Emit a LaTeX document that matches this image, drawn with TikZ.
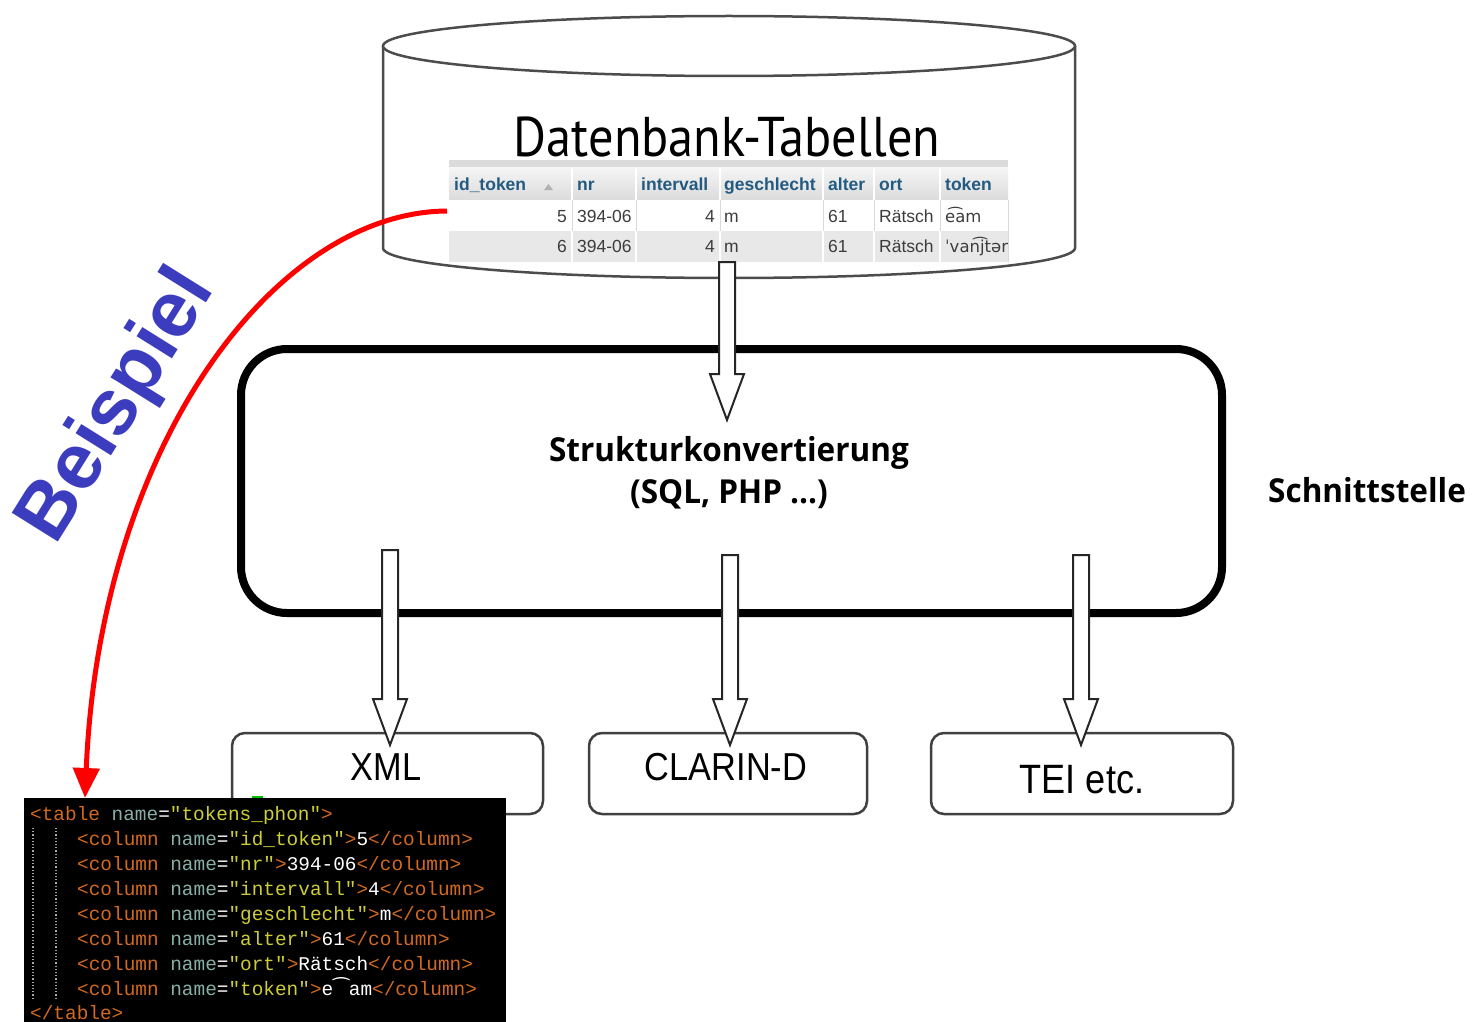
\documentclass[tikz,border=0pt]{standalone}
\usepackage{fontspec}
\setmainfont{Liberation Sans}
\setmonofont{Liberation Mono}
\newfontfamily\ptsans{PT Sans}
\newfontfamily\hbold{Open Sans}
\newfontfamily\djv{DejaVu Sans}
\usetikzlibrary{arrows.meta,calc}
\definecolor{hdr}{RGB}{35,90,129}
\definecolor{celltxt}{RGB}{60,60,60}
\definecolor{xtagc}{RGB}{210,105,30}
\definecolor{xattc}{RGB}{135,175,165}
\definecolor{xvalc}{RGB}{205,205,55}
\definecolor{bsp}{RGB}{60,60,190}
\newcommand\xt[1]{\textcolor{xtagc}{#1}}
\newcommand\xa[1]{\textcolor{xattc}{#1}}
\newcommand\xv[1]{\textcolor{xvalc}{#1}}
\newcommand\xw[1]{\textcolor{white}{#1}}
\newcommand\colline[2]{\xt{<column} \xa{name}\xw{=}\xv{"#1"}\xt{>}\xw{#2}\xt{</column>}}
\newcommand\hollowarrow[2]{%
  \draw[harrow] ($(#1)+(-8,0)$) -- ($(#2)+(-8,-46)$) -- ($(#2)+(-17,-46)$) -- (#2)
    -- ($(#2)+(17,-46)$) -- ($(#2)+(8,-46)$) -- ($(#1)+(8,0)$) -- cycle;}
\begin{document}
\begin{tikzpicture}[x=1pt,y=-1pt,
  harrow/.style={draw=black!85,line width=2pt,fill=white,line join=miter},
  outbox/.style={draw=black!75,line width=2.5pt,rounded corners=13pt,fill=white,minimum height=81pt},
  outtxt/.style={font=\fontsize{39}{44}\selectfont,xscale=0.88},
  cell/.style={font=\fontsize{17.5}{20}\selectfont,text=celltxt,anchor=base west,inner sep=0pt},
  hcell/.style={font=\bfseries\fontsize{17.5}{20}\selectfont,text=hdr,anchor=base west,inner sep=0pt},
  rcell/.style={cell,anchor=base east},
  codeline/.style={font=\ttfamily\fontsize{19.4}{24}\selectfont,anchor=base west,inner sep=0pt},
  bigtxt/.style={font=\hbold\bfseries\fontsize{33}{42}\selectfont,xscale=0.955}
]
\useasboundingbox (0,0) rectangle (1478,1022);

% ---------- database cylinder ----------
\draw[black!70,line width=2.5pt,fill=white]
  (383,46) -- (383,248) arc[start angle=180,end angle=0,x radius=346,y radius=30]
  -- (1075,46);
\draw[black!70,line width=2.5pt,fill=white] (729,46) ellipse [x radius=346,y radius=30];
\node[font=\ptsans\fontsize{56}{60}\selectfont,inner sep=0pt,xscale=0.9] (db) at (727,137) {Datenbank-Tabellen};

% ---------- table ----------
\fill[gray!28] (449,160) rectangle (1008,168);
\shade[top color=gray!8,bottom color=gray!28] (449,168) rectangle (1008,200);
\fill[white] (449,200) rectangle (1008,231);
\fill[gray!18] (449,231) rectangle (1008,262);
\foreach \cx in {572,636,720,823,874,940}{
  \draw[white,line width=1.2pt] (\cx,168) -- (\cx,200);
  \draw[gray!30,line width=1pt] (\cx,200) -- (\cx,231);
  \draw[white,line width=1.2pt] (\cx,231) -- (\cx,262);
}
\draw[gray!30,line width=1pt] (1008,200) -- (1008,262);
\node[hcell] (h1) at (454,190) {id\_token};
\fill[gray!60] (544,190) -- (553,190) -- (548.5,184) -- cycle;
\node[hcell] (h2) at (577,190) {nr};
\node[hcell] (h3) at (641,190) {intervall};
\node[hcell] (h4) at (724,190) {geschlecht};
\node[hcell] (h5) at (828,190) {alter};
\node[hcell] (h6) at (879,190) {ort};
\node[hcell] (h7) at (945,190) {token};
\foreach \ry/\id/\tok in {222/5/{e͡am},252/6/{ˈvan͡jtər}}{
  \node[rcell] at (567,\ry) {\id};
  \node[cell] at (577,\ry) {394-06};
  \node[rcell] at (715,\ry) {4};
  \node[cell] at (724,\ry) {m};
  \node[cell] at (828,\ry) {61};
  \node[cell] at (879,\ry) {Rätsch};
  \node[cell,font=\djv\fontsize{16.5}{20}\selectfont] at (945,\ry) {\tok};
}
\coordinate (tabw) at (447,211);

% ---------- conversion box ----------
\coordinate (dbout) at (727,262);
\coordinate (convin) at (727,420);
\node[draw,line width=8pt,rounded corners=46pt,minimum width=981pt,minimum height=264pt,inner sep=0pt]
  (conv) at (731.5,481) {};
\hollowarrow{dbout}{convin}
\node[bigtxt,align=center,inner sep=0pt] (convtxt) at (729,473)
  {Strukturkonvertierung\\(SQL, PHP ...)};
\node[bigtxt,anchor=west,inner sep=0pt] (schnitt) at (1268,490) {Schnittstelle};

% ---------- output boxes ----------
\node[outbox,minimum width=311pt] (xml) at (387.5,773.5) {};
\node[outbox,minimum width=278pt] (clarin) at (728,773.5) {};
\node[outbox,minimum width=302pt] (tei) at (1082,773.5) {};
\node[outtxt] (xmlt) at (386,767) {XML};
\node[outtxt] (clarint) at (726,767) {CLARIN-D};
\node[outtxt,font=\fontsize{41}{46}\selectfont] (teit) at (1082,780) {TEI etc.};

\coordinate (o1s) at (390,550); \coordinate (o1e) at (390,745);
\coordinate (o2s) at (730,555); \coordinate (o2e) at (730,745);
\coordinate (o3s) at (1081,555); \coordinate (o3e) at (1081,745);
\hollowarrow{o1s}{o1e}
\hollowarrow{o2s}{o2e}
\hollowarrow{o3s}{o3e}

% ---------- XML code box ----------
\node[fill=black,minimum width=482pt,minimum height=224pt,inner sep=0pt,anchor=north west] (code) at (24,798) {};
\draw[green!75!black,line width=2pt] (252,797) -- (263,797);
\draw[gray!70,line width=1.2pt,dotted] (33,828) -- (33,1000);
\draw[gray!70,line width=1.2pt,dotted] (56,828) -- (56,1000);
\node[codeline] (c0) at (30,820) {\xt{<table} \xa{name}\xw{=}\xv{"tokens\_phon"}\xt{>}};
\node[codeline] (c1) at (77,845) {\colline{id\_token}{5}};
\node[codeline] (c2) at (77,870) {\colline{nr}{394-06}};
\node[codeline] (c3) at (77,895) {\colline{intervall}{4}};
\node[codeline] (c4) at (77,920) {\colline{geschlecht}{m}};
\node[codeline] (c5) at (77,945) {\colline{alter}{61}};
\node[codeline] (c6) at (77,970) {\colline{ort}{Rätsch}};
\node[codeline] (c7) at (77,995) {\colline{token}{e{\djv\fontsize{19.4}{24}\selectfont ⁀}am}};
\node[codeline] (c8) at (30,1019) {\xt{</table>}};

% ---------- Beispiel ----------
\node[font=\bfseries\fontsize{79}{80}\selectfont,text=bsp,rotate=58] (bsp) at (118,407) {Beispiel};

% ---------- red example arrow ----------
\draw[red,line width=5pt,-{Triangle[length=30pt,width=26pt]}]
  (tabw) .. controls (275,212) and (100,445) .. ($(code.north west)+(61,0)$);
\end{tikzpicture}
\end{document}
